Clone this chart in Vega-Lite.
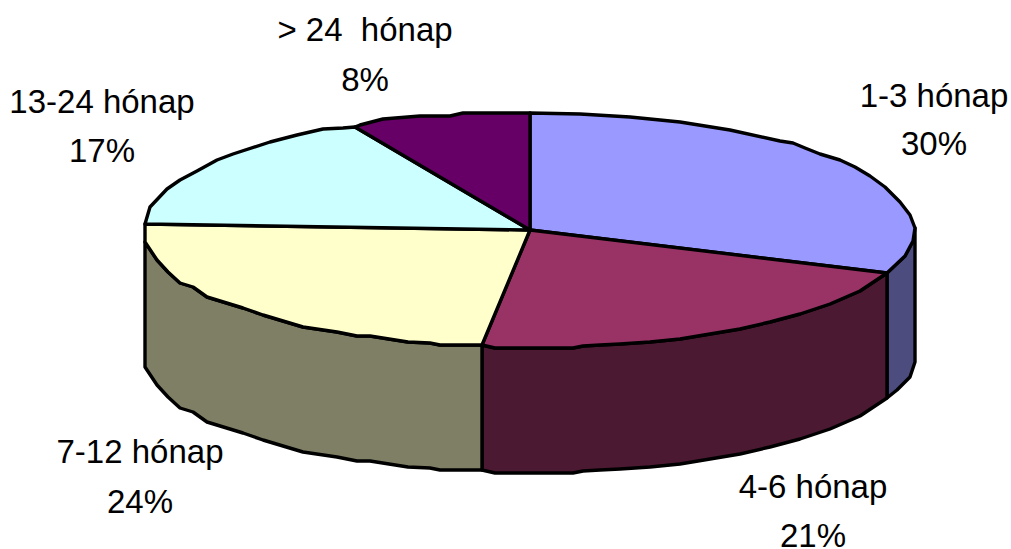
{"$schema":"https://vega.github.io/schema/vega-lite/v6.json","width":1011,"height":549,"padding":0,"autosize":{"type":"none"},"background":"white","view":{"stroke":null},
"datasets":{"shapes":[
{"s":"s1","i":0,"x":887,"y":273},{"s":"s1","i":1,"x":905,"y":256},{"s":"s1","i":2,"x":913,"y":241},{"s":"s1","i":3,"x":915,"y":228},{"s":"s1","i":4,"x":915,"y":362},{"s":"s1","i":5,"x":910,"y":377},{"s":"s1","i":6,"x":897,"y":390},{"s":"s1","i":7,"x":887,"y":398},{"s":"s1","i":8,"x":887,"y":273},
{"s":"s2","i":0,"x":887,"y":273},{"s":"s2","i":1,"x":860,"y":291},{"s":"s2","i":2,"x":830,"y":304},{"s":"s2","i":3,"x":800,"y":314},{"s":"s2","i":4,"x":770,"y":322},{"s":"s2","i":5,"x":740,"y":329},{"s":"s2","i":6,"x":710,"y":334},{"s":"s2","i":7,"x":680,"y":339},{"s":"s2","i":8,"x":650,"y":342},{"s":"s2","i":9,"x":620,"y":344},{"s":"s2","i":10,"x":600,"y":345},{"s":"s2","i":11,"x":583,"y":346},{"s":"s2","i":12,"x":573,"y":348},{"s":"s2","i":13,"x":495,"y":348},{"s":"s2","i":14,"x":482,"y":345},{"s":"s2","i":15,"x":482,"y":470},{"s":"s2","i":16,"x":495,"y":473},{"s":"s2","i":17,"x":573,"y":473},{"s":"s2","i":18,"x":583,"y":471},{"s":"s2","i":19,"x":600,"y":470},{"s":"s2","i":20,"x":620,"y":469},{"s":"s2","i":21,"x":650,"y":467},{"s":"s2","i":22,"x":680,"y":464},{"s":"s2","i":23,"x":710,"y":459},{"s":"s2","i":24,"x":740,"y":454},{"s":"s2","i":25,"x":770,"y":447},{"s":"s2","i":26,"x":800,"y":439},{"s":"s2","i":27,"x":830,"y":429},{"s":"s2","i":28,"x":860,"y":416},{"s":"s2","i":29,"x":887,"y":398},{"s":"s2","i":30,"x":887,"y":273},
{"s":"s3","i":0,"x":482,"y":345},{"s":"s3","i":1,"x":440,"y":345},{"s":"s3","i":2,"x":430,"y":343},{"s":"s3","i":3,"x":408,"y":342},{"s":"s3","i":4,"x":370,"y":336},{"s":"s3","i":5,"x":357,"y":336},{"s":"s3","i":6,"x":337,"y":332},{"s":"s3","i":7,"x":303,"y":327},{"s":"s3","i":8,"x":263,"y":315},{"s":"s3","i":9,"x":243,"y":308},{"s":"s3","i":10,"x":207,"y":297},{"s":"s3","i":11,"x":193,"y":287},{"s":"s3","i":12,"x":180,"y":283},{"s":"s3","i":13,"x":168,"y":272},{"s":"s3","i":14,"x":157,"y":260},{"s":"s3","i":15,"x":145,"y":242},{"s":"s3","i":16,"x":145,"y":367},{"s":"s3","i":17,"x":157,"y":385},{"s":"s3","i":18,"x":168,"y":397},{"s":"s3","i":19,"x":180,"y":408},{"s":"s3","i":20,"x":193,"y":412},{"s":"s3","i":21,"x":207,"y":422},{"s":"s3","i":22,"x":243,"y":433},{"s":"s3","i":23,"x":263,"y":440},{"s":"s3","i":24,"x":303,"y":452},{"s":"s3","i":25,"x":337,"y":457},{"s":"s3","i":26,"x":357,"y":461},{"s":"s3","i":27,"x":370,"y":461},{"s":"s3","i":28,"x":408,"y":467},{"s":"s3","i":29,"x":430,"y":468},{"s":"s3","i":30,"x":440,"y":470},{"s":"s3","i":31,"x":482,"y":470},{"s":"s3","i":32,"x":482,"y":345},
{"s":"t1","i":0,"x":530,"y":230},{"s":"t1","i":1,"x":530,"y":113},{"s":"t1","i":2,"x":580,"y":114},{"s":"t1","i":3,"x":630,"y":117},{"s":"t1","i":4,"x":680,"y":122},{"s":"t1","i":5,"x":730,"y":130},{"s":"t1","i":6,"x":780,"y":141},{"s":"t1","i":7,"x":793,"y":143},{"s":"t1","i":8,"x":805,"y":148},{"s":"t1","i":9,"x":820,"y":154},{"s":"t1","i":10,"x":840,"y":160},{"s":"t1","i":11,"x":855,"y":167},{"s":"t1","i":12,"x":870,"y":176},{"s":"t1","i":13,"x":885,"y":187},{"s":"t1","i":14,"x":900,"y":202},{"s":"t1","i":15,"x":910,"y":215},{"s":"t1","i":16,"x":915,"y":228},{"s":"t1","i":17,"x":913,"y":241},{"s":"t1","i":18,"x":905,"y":256},{"s":"t1","i":19,"x":887,"y":273},{"s":"t1","i":20,"x":530,"y":230},
{"s":"t2","i":0,"x":530,"y":230},{"s":"t2","i":1,"x":887,"y":273},{"s":"t2","i":2,"x":860,"y":291},{"s":"t2","i":3,"x":830,"y":304},{"s":"t2","i":4,"x":800,"y":314},{"s":"t2","i":5,"x":770,"y":322},{"s":"t2","i":6,"x":740,"y":329},{"s":"t2","i":7,"x":710,"y":334},{"s":"t2","i":8,"x":680,"y":339},{"s":"t2","i":9,"x":650,"y":342},{"s":"t2","i":10,"x":620,"y":344},{"s":"t2","i":11,"x":600,"y":345},{"s":"t2","i":12,"x":583,"y":346},{"s":"t2","i":13,"x":573,"y":348},{"s":"t2","i":14,"x":495,"y":348},{"s":"t2","i":15,"x":482,"y":345},{"s":"t2","i":16,"x":530,"y":230},
{"s":"t3","i":0,"x":530,"y":230},{"s":"t3","i":1,"x":482,"y":345},{"s":"t3","i":2,"x":440,"y":345},{"s":"t3","i":3,"x":430,"y":343},{"s":"t3","i":4,"x":408,"y":342},{"s":"t3","i":5,"x":370,"y":336},{"s":"t3","i":6,"x":357,"y":336},{"s":"t3","i":7,"x":337,"y":332},{"s":"t3","i":8,"x":303,"y":327},{"s":"t3","i":9,"x":263,"y":315},{"s":"t3","i":10,"x":243,"y":308},{"s":"t3","i":11,"x":207,"y":297},{"s":"t3","i":12,"x":193,"y":287},{"s":"t3","i":13,"x":180,"y":283},{"s":"t3","i":14,"x":168,"y":272},{"s":"t3","i":15,"x":157,"y":260},{"s":"t3","i":16,"x":145,"y":242},{"s":"t3","i":17,"x":145,"y":224},{"s":"t3","i":18,"x":530,"y":230},
{"s":"t4","i":0,"x":530,"y":230},{"s":"t4","i":1,"x":145,"y":224},{"s":"t4","i":2,"x":150,"y":207},{"s":"t4","i":3,"x":167,"y":189},{"s":"t4","i":4,"x":180,"y":180},{"s":"t4","i":5,"x":197,"y":171},{"s":"t4","i":6,"x":217,"y":160},{"s":"t4","i":7,"x":233,"y":154},{"s":"t4","i":8,"x":270,"y":142},{"s":"t4","i":9,"x":297,"y":135},{"s":"t4","i":10,"x":323,"y":129},{"s":"t4","i":11,"x":343,"y":128},{"s":"t4","i":12,"x":355,"y":127},{"s":"t4","i":13,"x":530,"y":230},
{"s":"t5","i":0,"x":530,"y":230},{"s":"t5","i":1,"x":355,"y":127},{"s":"t5","i":2,"x":360,"y":125},{"s":"t5","i":3,"x":383,"y":119},{"s":"t5","i":4,"x":420,"y":116},{"s":"t5","i":5,"x":450,"y":116},{"s":"t5","i":6,"x":463,"y":113},{"s":"t5","i":7,"x":530,"y":113},{"s":"t5","i":8,"x":530,"y":230}
],
"labels":[
{"t":"1-3 hónap","x":934,"y":107},{"t":"30%","x":934,"y":155},
{"t":"> 24\u00a0 hónap","x":365,"y":41},{"t":"8%","x":365,"y":91},
{"t":"13-24 hónap","x":102,"y":113},{"t":"17%","x":102,"y":162},
{"t":"7-12 hónap","x":140,"y":463},{"t":"24%","x":140,"y":513},
{"t":"4-6 hónap","x":813,"y":498},{"t":"21%","x":813,"y":547}
]},
"layer":[
{"data":{"name":"shapes"},"mark":{"type":"line","stroke":"black","strokeWidth":3.4,"strokeJoin":"round","interpolate":"linear"},
"encoding":{
"x":{"field":"x","type":"quantitative","scale":{"domain":[0,1011],"nice":false,"zero":false},"axis":null},
"y":{"field":"y","type":"quantitative","scale":{"domain":[549,0],"nice":false,"zero":false},"axis":null},
"order":{"field":"i","type":"quantitative"},
"detail":{"field":"s"},
"fill":{"field":"s","type":"nominal","legend":null,"scale":{"domain":["s1","s2","s3","t1","t2","t3","t4","t5"],"range":["#4C4C7F","#4C1933","#7F7F66","#9999FF","#993366","#FFFFCC","#CCFFFF","#660066"]}}
}},
{"data":{"name":"labels"},"mark":{"type":"text","font":"Liberation Sans","fontSize":33,"align":"center","baseline":"alphabetic","fill":"black"},
"encoding":{
"x":{"field":"x","type":"quantitative","scale":{"domain":[0,1011],"nice":false,"zero":false},"axis":null},
"y":{"field":"y","type":"quantitative","scale":{"domain":[549,0],"nice":false,"zero":false},"axis":null},
"text":{"field":"t"}
}}
]}
